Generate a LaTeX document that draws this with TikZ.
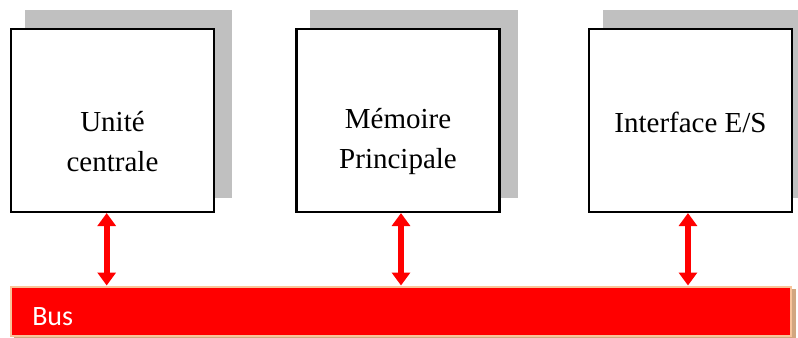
\documentclass[tikz,border=0pt]{standalone}
\usepackage{fontspec}
\setmainfont{Liberation Serif}
\newfontfamily\busfont{Carlito}
\usetikzlibrary{arrows.meta,backgrounds}

\definecolor{shadowgray}{HTML}{C0C0C0}
\definecolor{busred}{HTML}{FF0000}
\definecolor{busedge}{HTML}{F8C49A}
\definecolor{busshadow}{HTML}{D2A67F}

\tikzset{
  unitbox/.style={draw=black, line width=1.6pt, fill=white,
    minimum width=152.25pt, minimum height=137.25pt, inner sep=0pt},
  unitlabel/.style={align=center, font=\fontsize{21.75}{30}\selectfont, inner sep=0pt},
  busarrow/.style={draw=busred, line width=4.6pt,
    {Triangle[width=13.5pt, length=9.75pt]}-{Triangle[width=13.5pt, length=9.75pt]}}
}

\begin{document}
\begin{tikzpicture}[x=0.75pt, y=-0.75pt]
  \useasboundingbox (0,0) rectangle (798,338);
  \clip (0,0) rectangle (798,338);

  % functional units
  \node[unitbox] (cpu) at (112.5,120.5) {};
  \node[unitbox] (mem) at (398,120.5) {};
  \node[unitbox] (io)  at (690.5,120.5) {};

  % drop shadows behind the units
  \begin{scope}[on background layer]
    \fill[shadowgray] ([shift={(15,-18)}]cpu.north west) rectangle ([shift={(17,-15)}]cpu.south east);
    \fill[shadowgray] ([shift={(15,-18)}]mem.north west) rectangle ([shift={(17,-15)}]mem.south east);
    \fill[shadowgray] ([shift={(15,-18)}]io.north west) rectangle ([shift={(17,-15)}]io.south east);
  \end{scope}

  % labels
  \node[unitlabel] (cpulabel) at (112.5,142) {Unité\\centrale};
  \node[unitlabel] (memlabel) at (398,142) {Mémoire\\Principale};
  \node[unitlabel, anchor=base] (iolabel) at (690.5,133) {Interface E/S};

  % system bus with its shadow
  \node[fill=busred, draw=busedge, line width=1.5pt, minimum width=585pt, minimum height=36.75pt,
        inner sep=0pt] (bus) at (401,311) {};
  \begin{scope}[on background layer]
    \fill[busshadow] ([shift={(4,3)}]bus.north west) rectangle ([shift={(4,3)}]bus.south east);
  \end{scope}
  \node[anchor=base west, text=white, font=\busfont\fontsize{21}{25}\selectfont, inner sep=0pt]
        (buslabel) at (32,325) {Bus};

  % links between the units and the bus
  \draw[busarrow] ([xshift=-4.35pt]cpu.south) -- ([xshift=-4.35pt]cpu.south |- bus.north);
  \draw[busarrow] ([xshift=2.25pt]mem.south) -- ([xshift=2.25pt]mem.south |- bus.north);
  \draw[busarrow] ([xshift=-1.9pt]io.south) -- ([xshift=-1.9pt]io.south |- bus.north);
\end{tikzpicture}
\end{document}
